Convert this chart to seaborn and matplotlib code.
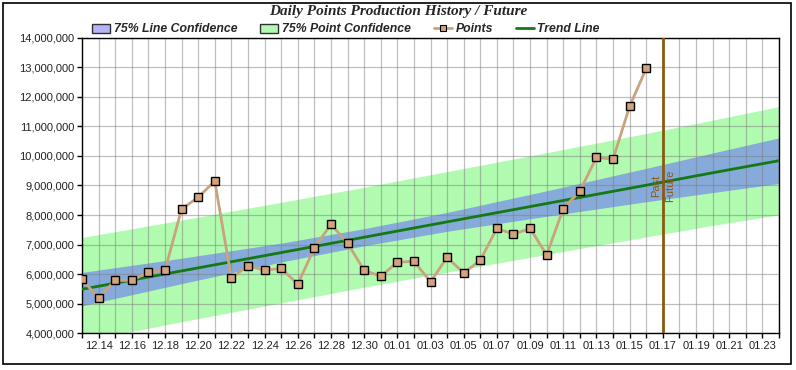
import pandas as pd
import matplotlib
matplotlib.use("Agg")
import matplotlib.pyplot as plt
import matplotlib.dates as mdates
import matplotlib.ticker as mticker
import matplotlib.transforms as mtransforms
from matplotlib.patches import Rectangle, Patch
from matplotlib.lines import Line2D
import seaborn as sns

# daily points, history
point_dates = ["12.13", "12.14", "12.15", "12.16", "12.17", "12.18", "12.19", "12.20",
               "12.21", "12.22", "12.23", "12.24", "12.25", "12.26", "12.27", "12.28",
               "12.29", "12.30", "12.31", "01.01", "01.02", "01.03", "01.04", "01.05",
               "01.06", "01.07", "01.08", "01.09", "01.10", "01.11", "01.12", "01.13",
               "01.14", "01.15", "01.16"]
point_values = [5830000, 5190000, 5790000, 5790000, 6070000, 6130000, 8200000, 8600000,
                9150000, 5860000, 6290000, 6130000, 6200000, 5660000, 6880000, 7690000,
                7050000, 6130000, 5930000, 6400000, 6440000, 5740000, 6570000, 6040000,
                6470000, 7550000, 7350000, 7550000, 6650000, 8220000, 8810000, 9950000,
                9890000, 11680000, 12960000]

# trend line and 75% confidence bands, read at a few dates
band_dates = ["12.13", "12.19", "12.25", "12.30", "01.04", "01.10", "01.16", "01.20", "01.24"]
trend = [5490000, 6110000, 6730000, 7250000, 7770000, 8390000, 9010000, 9430000, 9840000]
line_hi = [6060000, 6540000, 7050000, 7540000, 8090000, 8820000, 9580000, 10100000, 10610000]
line_lo = [4930000, 5680000, 6410000, 6960000, 7450000, 7960000, 8450000, 8760000, 9070000]
point_hi = [7240000, 7830000, 8430000, 8940000, 9470000, 10110000, 10760000, 11210000, 11670000]
point_lo = [3740000, 4390000, 5030000, 5560000, 6070000, 6670000, 7260000, 7650000, 8010000]

tick_labels = ["12.14", "12.16", "12.18", "12.20", "12.22", "12.24", "12.26", "12.28",
               "12.30", "01.01", "01.03", "01.05", "01.07", "01.09", "01.11", "01.13",
               "01.15", "01.17", "01.19", "01.21", "01.23"]
split_date = "01.17"
x_start, x_end = "12.13", "01.24"


def to_date(s):
    m, d = s.split(".")
    year = 2012 if m == "12" else 2013
    return pd.Timestamp(year=year, month=int(m), day=int(d))


sns.set_style("ticks")
plt.rcParams["font.family"] = ["Liberation Sans", "DejaVu Sans"]

df = pd.DataFrame({"date": [to_date(s) for s in point_dates], "points": point_values})
bands = pd.DataFrame({"date": [to_date(s) for s in band_dates], "trend": trend,
                      "line_hi": line_hi, "line_lo": line_lo,
                      "point_hi": point_hi, "point_lo": point_lo})

fig = plt.figure(figsize=(7.96, 3.70), dpi=100)
ax = fig.add_axes([82 / 796, 1 - 333.3 / 370, 697 / 796, 295.6 / 370])

green_band = "#B0FBB0"
blue_band = "#86AADA"
tan = "#C9A27E"
brown = "#8A5A10"

ax.fill_between(bands["date"], bands["point_lo"], bands["point_hi"], color=green_band, lw=0, zorder=1)
ax.fill_between(bands["date"], bands["line_lo"], bands["line_hi"], color=blue_band, lw=0, zorder=1.1)

sns.lineplot(data=bands, x="date", y="trend", ax=ax, color="#137A13", lw=2, zorder=3)
sns.lineplot(data=df, x="date", y="points", ax=ax, color=tan, lw=2, marker="s",
             markersize=5.5, markerfacecolor="#D3A47C", markeredgecolor="black",
             markeredgewidth=1, zorder=4)

ax.axvline(to_date(split_date), color=brown, lw=2, zorder=5)
trans = mtransforms.blended_transform_factory(ax.transData, ax.transAxes)
ax.text(to_date(split_date) - pd.Timedelta(hours=3), 0.5, "Past", rotation=90, ha="right",
        va="center", color=brown, fontsize=8, transform=trans, zorder=6)
ax.text(to_date(split_date) + pd.Timedelta(hours=3), 0.5, "Future", rotation=90, ha="left",
        va="center", color=brown, fontsize=8, transform=trans, zorder=6)

# axes
ax.set_xlim(to_date(x_start), to_date(x_end))
ax.set_ylim(4000000, 14000000)
ax.yaxis.set_major_locator(mticker.MultipleLocator(1000000))
ax.yaxis.set_major_formatter(mticker.FuncFormatter(lambda v, p: f"{int(v):,}"))
ax.set_xticks([to_date(s) for s in tick_labels])
ax.set_xticklabels(tick_labels)
ax.xaxis.set_minor_locator(mdates.DayLocator())
ax.set_xlabel("")
ax.set_ylabel("")
ax.set_axisbelow("line")
ax.xaxis.grid(True, which="both", color="#808080", alpha=0.5, lw=0.9)
ax.yaxis.grid(True, which="major", color="#808080", alpha=0.5, lw=0.9)
ax.tick_params(axis="both", which="both", length=3.5, width=1, color="black",
               labelsize=8, labelcolor="#222222", pad=2)
for sp in ax.spines.values():
    sp.set_visible(True)
    sp.set_color("black")
    sp.set_linewidth(1)

# title and legend
fig.text(0.5, 1 - 12 / 370, "Daily Points Production History / Future", ha="center", va="center",
         fontsize=11, fontstyle="italic", fontweight="bold", family="Liberation Serif")

handles = [
    Patch(facecolor="#B4B4F6", edgecolor="#303030", lw=1),
    Patch(facecolor="#B4F8B4", edgecolor="#303030", lw=1),
    Line2D([], [], color=tan, lw=2, marker="s", markersize=4.5, markerfacecolor="#D3A47C",
           markeredgecolor="black", markeredgewidth=0.8),
    Line2D([], [], color="#137A13", lw=2),
]
labels = ["75% Line Confidence", "75% Point Confidence", "Points", "Trend Line"]
fig.legend(handles, labels, loc="center left", bbox_to_anchor=(86 / 796, 1 - 29.5 / 370),
           ncol=4, frameon=False, borderpad=0, handlelength=1.45, handleheight=0.75,
           handletextpad=0.3, columnspacing=1.9,
           prop={"family": ["Liberation Sans"], "style": "italic",
                 "weight": "bold", "size": 8.8})

fig.patches.append(Rectangle((3 / 796, 1 - 364 / 370), 788 / 796, 361 / 370,
                             transform=fig.transFigure, fill=False, edgecolor="black", lw=1.2))

fig.savefig("out.png", dpi=100)
